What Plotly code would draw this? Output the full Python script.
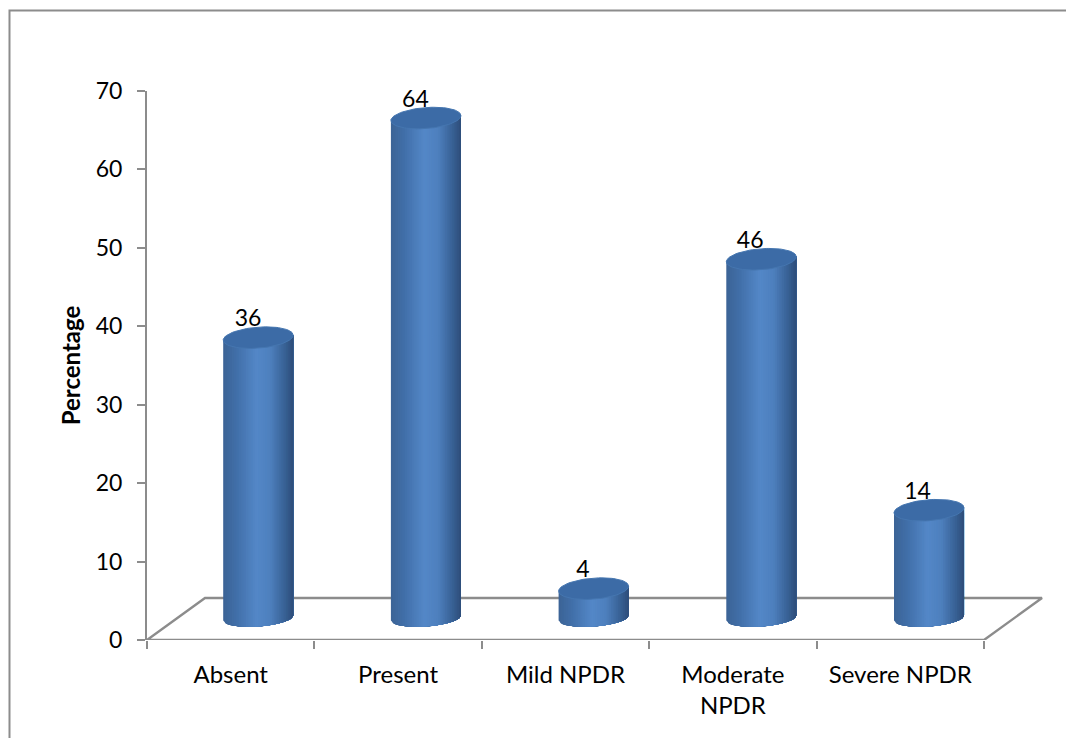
import numpy as np
import plotly.graph_objects as go

categories = ["Absent", "Present", "Mild NPDR", "Moderate<br>NPDR", "Severe NPDR"]
values = [36, 64, 4, 46, 14]
y_ticks = [0, 10, 20, 30, 40, 50, 60, 70]

PAGE = 8              # the page body adds this margin around the figure
W, H = 1074 - PAGE, 738 - PAGE
L, R, T, B = 147, 984, 91, 640   # axes box in window pixels
EDGE = 1052           # right end of the drawing area, in window pixels
ux = (R - L) / 5      # px per category
uy = (B - T) / 70     # px per percent
X_MAX = 4.5 + (EDGE - R) / ux

TOP_LIFT = 20 / uy    # cylinder top raised by the 3D depth
BASE = 22 / uy        # centre height of the cylinder base
DX = 27.5 / ux        # cylinder shifted by the 3D depth
STEP = 1.0018         # cylinder spacing, in categories
RX = 35 / ux
RY = 10.5 / uy
RY_BOTTOM = 8.5 / uy
TILT = 2.5 / uy
GREY = "#8c8c8c"
FONT = "Lato"


def ramp(t):
    stops = [(-1, (60, 100, 150)), (-0.6, (66, 112, 170)), (-0.05, (84, 136, 200)),
             (0.35, (78, 128, 190)), (0.75, (57, 98, 150)), (1, (46, 78, 122))]
    xs = [s[0] for s in stops]
    c = [np.interp(t, xs, [s[1][k] for s in stops]) for k in range(3)]
    return "rgb(%d,%d,%d)" % tuple(c)


fig = go.Figure()

# floor of the 3D chart and the category axis line
dx_px, dy_px = 58 / ux, 42 / uy
fig.add_trace(go.Scatter(
    x=[-0.5, -0.5 + dx_px, 4.5 + dx_px, 4.5, -0.5],
    y=[0, dy_px, dy_px, 0, 0],
    mode="lines", line=dict(color=GREY, width=2.4), hoverinfo="skip",
    showlegend=False, cliponaxis=False))

# cylinder bodies: painted left to right, each layer reaching the right edge
N = 40
edges = np.linspace(-1, 1, N + 1)
for k in range(N):
    a = edges[k]
    ts = np.linspace(a, 1, 24)
    xs, ys = [], []
    for i, v in enumerate(values):
        cx = i * STEP + DX
        top = v + TOP_LIFT
        lower = BASE - RY_BOTTOM * np.sqrt(np.clip(1 - ts * ts, 0, 1)) + TILT * ts
        upper = top + TILT * ts
        xs += list(cx + RX * ts) + list(cx + RX * ts[::-1]) + [None]
        ys += list(upper) + list(lower[::-1]) + [None]
    color = ramp(a + 1 / N)
    fig.add_trace(go.Scatter(
        x=xs, y=ys, mode="lines", fill="toself", fillcolor=color,
        line=dict(color=color, width=0), hoverinfo="skip",
        showlegend=False, cliponaxis=False))

# cylinder caps
th = np.linspace(0, 2 * np.pi, 80)
for i, v in enumerate(values):
    cx = i * STEP + DX
    t = np.cos(th)
    fig.add_trace(go.Scatter(
        x=cx + RX * t, y=v + TOP_LIFT + RY * np.sin(th) + TILT * t,
        mode="lines", fill="toself", fillcolor="#3c6ba6",
        line=dict(color="#4576b0", width=1), hoverinfo="skip",
        showlegend=False, cliponaxis=False))

# value labels
fig.add_trace(go.Scatter(
    x=[i + 17.3 / ux for i in range(len(values))],
    y=[v + 37 / uy for v in values],
    text=[str(v) for v in values], mode="text",
    textposition="middle center",
    textfont=dict(family=FONT, size=23, color="black"),
    hoverinfo="skip", showlegend=False, cliponaxis=False))

fig.update_layout(
    width=W, height=H, autosize=False,
    margin=dict(l=L - PAGE, r=W - (EDGE - PAGE), t=T - PAGE, b=H - (B - PAGE), pad=0),
    paper_bgcolor="white", plot_bgcolor="white",
    font=dict(family=FONT, color="black"),
    xaxis=dict(
        range=[-0.5, X_MAX], tickmode="array", tickvals=list(range(5)), ticktext=categories,
        ticks="", showgrid=False, zeroline=False, showline=False,
        tickfont=dict(family=FONT, size=24), ticklabelstandoff=18,
        minor=dict(tickmode="array", tickvals=[-0.5, 0.5, 1.5, 2.5, 3.5, 4.5], ticks="outside",
                   ticklen=8, tickwidth=2, tickcolor=GREY, showgrid=False),
    ),
    yaxis=dict(
        range=[0, 70], tickmode="array", tickvals=y_ticks,
        ticks="outside", ticklen=8, tickwidth=2, tickcolor=GREY,
        showgrid=False, zeroline=False, showline=True, linecolor=GREY, linewidth=2,
        tickfont=dict(family=FONT, size=23), ticklabelstandoff=10,
        title=dict(text="<b>Percentage</b>", font=dict(family=FONT, size=24), standoff=8),
    ),
    shapes=[dict(type="path", xref="paper", yref="paper",
                 path="M %f %f L %f %f L %f %f" % (
                     (9.5 - L) / (EDGE - L), (B - 745) / (B - T),
                     (9.5 - L) / (EDGE - L), (B - 10.5) / (B - T),
                     (1080 - L) / (EDGE - L), (B - 10.5) / (B - T)),
                 line=dict(color=GREY, width=2))],
)

fig.write_html("out.html")
